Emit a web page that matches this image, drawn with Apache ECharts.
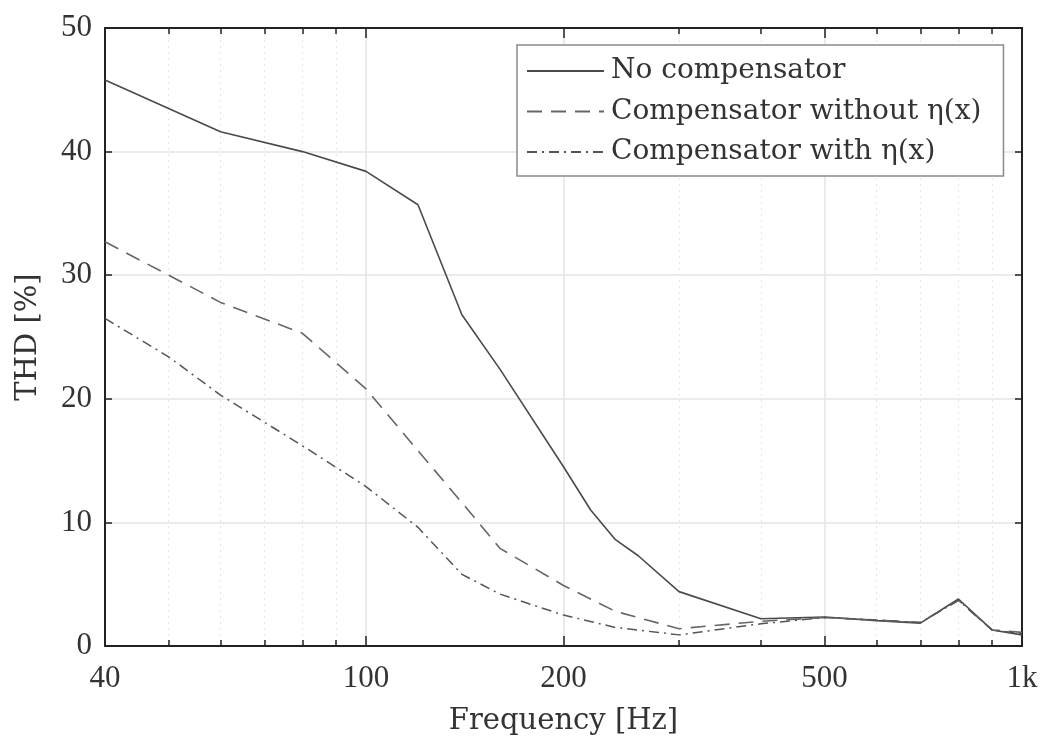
<!DOCTYPE html>
<html>
<head>
<meta charset="utf-8">
<script src="https://cdn.jsdelivr.net/npm/echarts@6/dist/echarts.min.js"></script>
<style>html,body{margin:0;padding:0;background:#fff}#c{width:1043px;height:737px}</style>
</head>
<body>
<div id="c"></div>
<script>
// Data (frequency in Hz, THD in %)
const freqNoComp = [40, 60, 80, 100, 120, 140, 160, 200, 220, 240, 260, 300, 400, 500, 600, 700, 800, 900, 1000];
const thdNoComp  = [45.8, 41.6, 40.0, 38.4, 35.7, 26.8, 22.4, 14.5, 11.0, 8.6, 7.3, 4.4, 2.2, 2.35, 2.05, 1.85, 3.8, 1.3, 0.9];

const freqWithout = [40, 60, 80, 100, 120, 140, 160, 200, 240, 300, 400, 500, 600, 700, 800, 900, 1000];
const thdWithout  = [32.7, 27.8, 25.3, 20.8, 15.8, 11.6, 7.9, 4.9, 2.8, 1.4, 2.0, 2.3, 2.1, 1.9, 3.7, 1.3, 1.1];

const freqWith = [40, 50, 60, 80, 100, 120, 140, 160, 200, 240, 300, 400, 500, 600, 700, 800, 900, 1000];
const thdWith  = [26.5, 23.4, 20.3, 16.2, 12.9, 9.6, 5.8, 4.2, 2.5, 1.5, 0.9, 1.8, 2.3, 2.1, 1.9, 3.7, 1.3, 1.0];

const seriesNames = ['No compensator', 'Compensator without \u03B7(x)', 'Compensator with \u03B7(x)'];

const xLabelValues = [40, 100, 200, 500, 1000];
const xMajorTicks = [100, 200, 500];
const xMinorTicks = [50, 60, 70, 80, 90, 300, 400, 600, 700, 800, 900];

const NUMFONT = 'Liberation Serif';
const TXTFONT = 'DejaVu Serif';
const TXT = '#333';
const AX = '#222';

function pairs(xs, ys) { return xs.map((x, i) => [x, ys[i]]); }

const chart = echarts.init(document.getElementById('c'), null, {renderer: 'canvas'});

function logAxis(pos, ticks, len, showLine, labels, split) {
  return {
    type: 'log', logBase: 10, min: 40, max: 1000, position: pos, gridIndex: 0,
    axisLine: {show: showLine, onZero: false, lineStyle: {color: AX, width: 2}},
    axisTick: {show: true, inside: true, length: len, customValues: ticks, lineStyle: {color: AX, width: 1.5}},
    axisLabel: labels ? {show: true, customValues: labels, margin: 17, color: TXT, fontFamily: NUMFONT, fontSize: 31,
      formatter: v => (v >= 1000 ? '1k' : String(Math.round(v)))} : {show: false},
    minorTick: {show: false},
    splitLine: split || {show: false}
  };
}

const xAxes = [
  Object.assign(logAxis('bottom', xMajorTicks, 10, true, xLabelValues,
    {show: true, lineStyle: {color: '#e4e4e4', width: 1.5}}),
    {name: 'Frequency [Hz]', nameLocation: 'middle', nameGap: 61,
     nameTextStyle: {color: TXT, fontFamily: TXTFONT, fontSize: 29}}),
  logAxis('bottom', xMinorTicks, 6, false, null,
    {show: true, lineStyle: {color: '#e6e6e6', width: 1, type: [2, 4]}}),
  logAxis('top', xMajorTicks, 10, true, null, null),
  logAxis('top', xMinorTicks, 6, false, null, null)
];

const yAxes = [
  {
    type: 'value', min: 0, max: 50, interval: 10, position: 'left',
    axisLine: {show: true, lineStyle: {color: AX, width: 2}},
    axisTick: {show: true, inside: true, length: 7, lineStyle: {color: AX, width: 1.5}},
    axisLabel: {color: TXT, fontFamily: NUMFONT, fontSize: 31, margin: 13},
    splitLine: {show: true, lineStyle: {color: '#e4e4e4', width: 1.5}},
    name: 'THD [%]', nameLocation: 'middle', nameGap: 62, nameRotate: 90,
    nameTextStyle: {color: TXT, fontFamily: TXTFONT, fontSize: 29}
  },
  {
    type: 'value', min: 0, max: 50, interval: 10, position: 'right',
    axisLine: {show: true, lineStyle: {color: AX, width: 2}},
    axisTick: {show: true, inside: true, length: 7, lineStyle: {color: AX, width: 1.5}},
    axisLabel: {show: false},
    splitLine: {show: false}
  }
];

chart.setOption({
  backgroundColor: '#fff',
  animation: false,
  grid: {left: 105, right: 21, top: 28, bottom: 91, containLabel: false, outerBoundsMode: 'none'},
  xAxis: xAxes,
  yAxis: yAxes,
  legend: {
    orient: 'vertical', left: 517, top: 45,
    itemWidth: 77, itemHeight: 14, itemGap: 12.5,
    padding: [12, 22, 10, 9],
    borderColor: '#8a8a8a', borderWidth: 1.5, backgroundColor: '#fff',
    itemStyle: {opacity: 0},
    textStyle: {color: TXT, fontFamily: TXTFONT, fontSize: 28, padding: [0, 0, 0, 2]},
    data: seriesNames
  },
  series: [
    {name: seriesNames[0], type: 'line', xAxisIndex: 0, yAxisIndex: 0, symbol: 'none',
     lineStyle: {color: '#4a4a4a', width: 1.6, type: 'solid'}, itemStyle: {color: '#4a4a4a'},
     data: pairs(freqNoComp, thdNoComp)},
    {name: seriesNames[1], type: 'line', xAxisIndex: 0, yAxisIndex: 0, symbol: 'none',
     lineStyle: {color: '#666', width: 1.6, type: [15, 9]}, itemStyle: {color: '#666'},
     data: pairs(freqWithout, thdWithout)},
    {name: seriesNames[2], type: 'line', xAxisIndex: 0, yAxisIndex: 0, symbol: 'none',
     lineStyle: {color: '#555', width: 1.5, type: [10, 5, 2, 5]}, itemStyle: {color: '#555'},
     data: pairs(freqWith, thdWith)}
  ]
});
</script>
</body>
</html>
